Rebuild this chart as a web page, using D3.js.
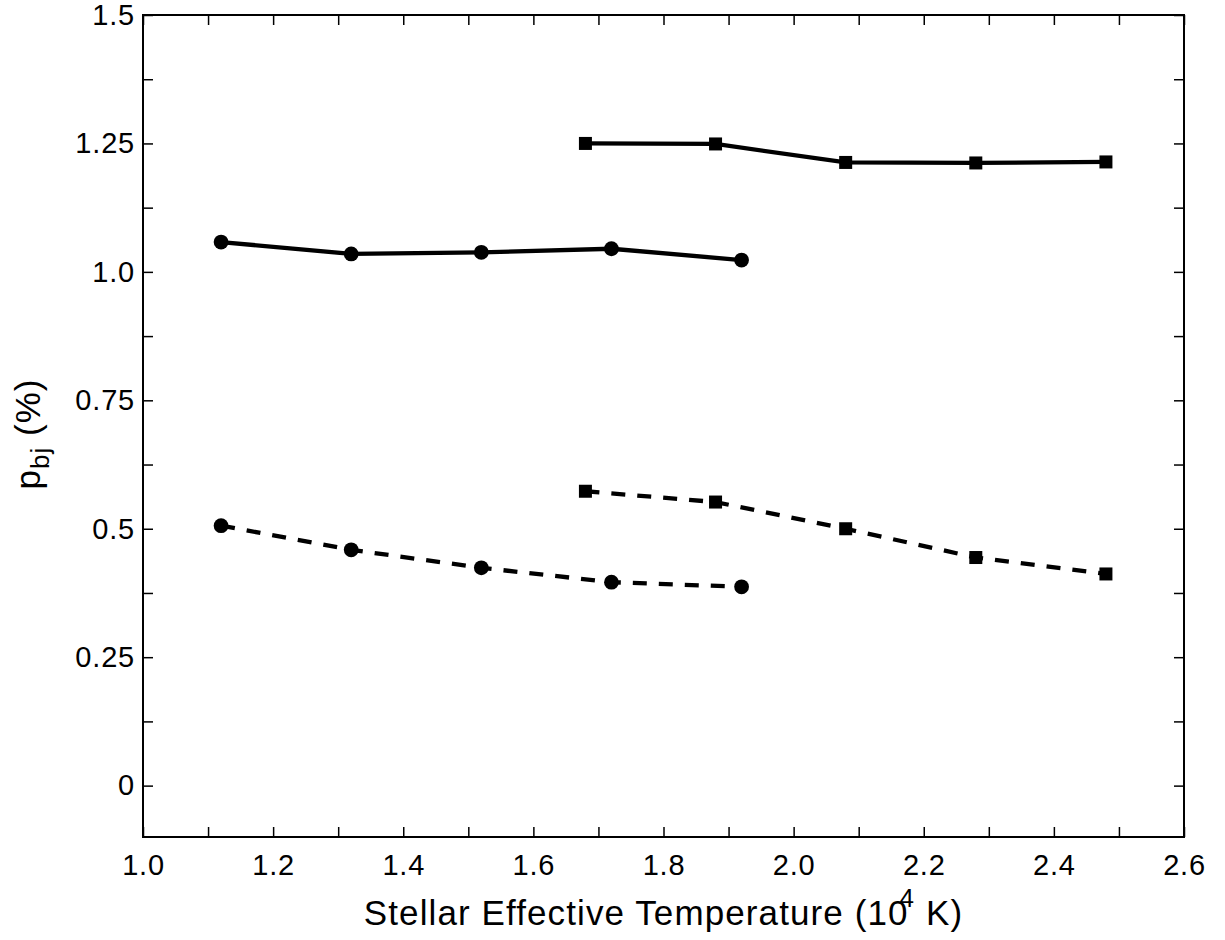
<!DOCTYPE html>
<html>
<head>
<meta charset="utf-8">
<script src="https://cdn.jsdelivr.net/npm/d3@7"></script>
<style>
  body { margin: 0; background: #fff; }
  svg text { font-family: "Liberation Sans", Arial, sans-serif; fill: #000; }
</style>
</head>
<body>
<div class="svg-container"></div>
<script>
// temperatures (10^4 K)
const tempCircles = [1.12, 1.32, 1.52, 1.72, 1.92];
const tempSquares = [1.68, 1.88, 2.08, 2.28, 2.48];

// p_bj (%) values
const solidCircles = [1.058, 1.035, 1.038, 1.045, 1.023];
const solidSquares = [1.250, 1.249, 1.213, 1.212, 1.214];
const dashedCircles = [0.506, 0.459, 0.424, 0.396, 0.387];
const dashedSquares = [0.573, 0.552, 0.500, 0.444, 0.412];

// ticks and tick labels
const xTicks = [1.0, 1.1, 1.2, 1.3, 1.4, 1.5, 1.6, 1.7, 1.8, 1.9, 2.0, 2.1, 2.2, 2.3, 2.4, 2.5, 2.6];
const xLabelValues = [1.0, 1.2, 1.4, 1.6, 1.8, 2.0, 2.2, 2.4, 2.6];
const xLabels = ['1.0', '1.2', '1.4', '1.6', '1.8', '2.0', '2.2', '2.4', '2.6'];
const yTicks = [0, 0.125, 0.25, 0.375, 0.5, 0.625, 0.75, 0.875, 1.0, 1.125, 1.25, 1.375, 1.5];
const yLabelValues = [0, 0.25, 0.5, 0.75, 1.0, 1.25, 1.5];
const yLabels = ['0', '0.25', '0.5', '0.75', '1.0', '1.25', '1.5'];

function renderChart() {

  // set up dimensions
  const width = 1225;
  const height = 940;
  const margin = { top: 15, right: 41, bottom: 103, left: 143 };
  const innerWidth = width - margin.left - margin.right;
  const innerHeight = height - margin.top - margin.bottom;
  const tickLen = 10;

  const svg = d3.select('.svg-container')
    .append('svg')
    .attr('width', width)
    .attr('height', height);

  const g = svg.append('g')
    .attr('transform', `translate(${margin.left},${margin.top})`);

  // scales
  const x = d3.scaleLinear().domain([1.0, 2.6]).range([0, innerWidth]);
  const y = d3.scaleLinear().domain([-0.1, 1.5]).range([innerHeight, 0]);

  const labelFor = (values, labels) => d => {
    const i = values.findIndex(v => Math.abs(v - d) < 1e-9);
    return i >= 0 ? labels[i] : '';
  };

  // axes, ticks pointing inwards on all four sides
  const xBottom = g.append('g')
    .attr('transform', `translate(0,${innerHeight})`)
    .call(d3.axisBottom(x).tickValues(xTicks).tickSize(-tickLen).tickPadding(17)
      .tickFormat(labelFor(xLabelValues, xLabels)));

  const xTop = g.append('g')
    .call(d3.axisTop(x).tickValues(xTicks).tickSize(-tickLen).tickFormat(''));

  const yLeft = g.append('g')
    .call(d3.axisLeft(y).tickValues(yTicks).tickSize(-tickLen).tickPadding(8)
      .tickFormat(labelFor(yLabelValues, yLabels)));

  const yRight = g.append('g')
    .attr('transform', `translate(${innerWidth},0)`)
    .call(d3.axisRight(y).tickValues(yTicks).tickSize(-tickLen).tickFormat(''));

  [xBottom, xTop, yLeft, yRight].forEach(a => {
    a.select('.domain').remove();
    a.selectAll('.tick line').attr('stroke', '#000').attr('stroke-width', 1.5);
    a.selectAll('.tick text')
      .style('font-size', '29px')
      .style('letter-spacing', '0.8px')
      .attr('fill', '#000');
  });

  // frame
  g.append('rect')
    .attr('width', innerWidth)
    .attr('height', innerHeight)
    .attr('fill', 'none')
    .attr('stroke', '#000')
    .attr('stroke-width', 2);

  // series
  const series = [
    { temps: tempSquares, values: solidSquares, marker: 'square', dashed: false },
    { temps: tempCircles, values: solidCircles, marker: 'circle', dashed: false },
    { temps: tempSquares, values: dashedSquares, marker: 'square', dashed: true },
    { temps: tempCircles, values: dashedCircles, marker: 'circle', dashed: true }
  ];

  const line = d3.line()
    .x(d => x(d[0]))
    .y(d => y(d[1]));

  series.forEach(s => {
    const pts = s.temps.map((t, i) => [t, s.values[i]]);

    g.append('path')
      .datum(pts)
      .attr('d', line)
      .attr('fill', 'none')
      .attr('stroke', '#000')
      .attr('stroke-width', 4.3)
      .attr('stroke-dasharray', s.dashed ? '14,12' : null);

    if (s.marker === 'circle') {
      g.selectAll(null)
        .data(pts)
        .enter()
        .append('circle')
        .attr('cx', d => x(d[0]))
        .attr('cy', d => y(d[1]))
        .attr('r', 7.4)
        .attr('fill', '#000');
    } else {
      const size = 13;
      g.selectAll(null)
        .data(pts)
        .enter()
        .append('rect')
        .attr('x', d => x(d[0]) - size / 2)
        .attr('y', d => y(d[1]) - size / 2)
        .attr('width', size)
        .attr('height', size)
        .attr('fill', '#000');
    }
  });

  // x axis title
  const xTitle = svg.append('text')
    .attr('x', margin.left + innerWidth / 2)
    .attr('y', 925)
    .attr('text-anchor', 'middle')
    .style('font-size', '35px')
    .style('letter-spacing', '1.1px');
  xTitle.append('tspan').text('Stellar Effective Temperature (10');
  xTitle.append('tspan').attr('dx', -9).attr('dy', -18).style('font-size', '26px').text('4');
  xTitle.append('tspan').attr('dy', 18).text(' K)');

  // y axis title
  const yTitle = svg.append('text')
    .attr('transform', `translate(40,${margin.top + innerHeight / 2 + 8}) rotate(-90)`)
    .attr('text-anchor', 'middle')
    .style('font-size', '35px')
    .style('letter-spacing', '1px');
  yTitle.append('tspan').text('p');
  yTitle.append('tspan').attr('dy', 9).style('font-size', '26px').text('bj');
  yTitle.append('tspan').attr('dy', -9).text(' (%)');
}

renderChart();
</script>
</body>
</html>
